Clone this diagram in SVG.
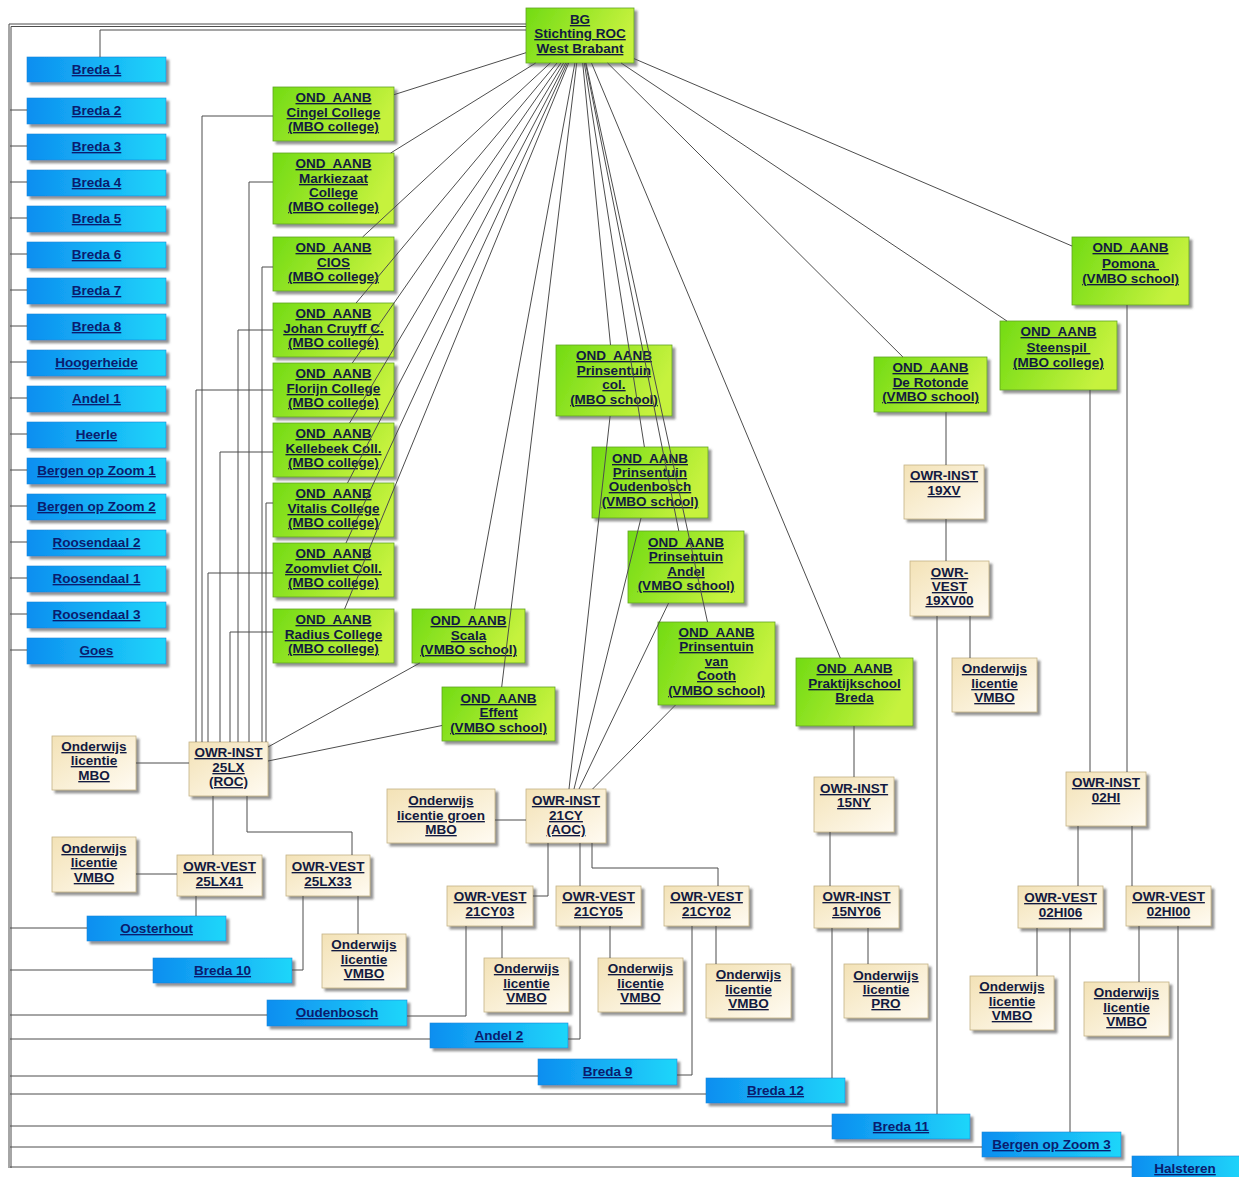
<svg xmlns="http://www.w3.org/2000/svg" width="1239" height="1177" viewBox="0 0 1239 1177">
<defs>
<linearGradient id="gg" x1="0" y1="0" x2="1" y2="0.3"><stop offset="0" stop-color="#72db14"/><stop offset="1" stop-color="#c6f23e"/></linearGradient>
<linearGradient id="bgr" x1="0" y1="0" x2="1" y2="0"><stop offset="0" stop-color="#0d8ef0"/><stop offset="1" stop-color="#1fd6fa"/></linearGradient>
<linearGradient id="yg" x1="0" y1="0" x2="1" y2="1"><stop offset="0" stop-color="#f3e2b6"/><stop offset="1" stop-color="#fffbf2"/></linearGradient>
<filter id="sh" x="-10%" y="-10%" width="130%" height="140%"><feDropShadow dx="3" dy="3" stdDeviation="1" flood-color="#707070" flood-opacity="0.75"/></filter>
</defs>
<style>
text{font-family:"Liberation Sans",Arial,sans-serif;font-weight:bold;font-size:13.5px;text-anchor:middle;text-decoration:underline;white-space:pre;fill:#121a40}
.g rect{fill:url(#gg);stroke:#62a322;stroke-width:0.8;filter:url(#sh)}
.b rect{fill:url(#bgr);stroke:#1a86d8;stroke-width:0.6;filter:url(#sh)}
.y rect{fill:url(#yg);stroke:#c4b285;stroke-width:0.8;filter:url(#sh)}
.b text{fill:#0a1c6e}
.c path{fill:none;stroke:#4d4d4d;stroke-width:1}
</style>
<rect width="1239" height="1177" fill="#ffffff"/>

<!-- blue location nodes -->
<g id="breda1" class="b"><rect x="27" y="57" width="139" height="25"/><text x="96.5" y="74">Breda 1</text></g>
<g id="breda2" class="b"><rect x="27" y="98" width="139" height="26"/><text x="96.5" y="115">Breda 2</text></g>
<g id="breda3" class="b"><rect x="27" y="134" width="139" height="26"/><text x="96.5" y="151">Breda 3</text></g>
<g id="breda4" class="b"><rect x="27" y="170" width="139" height="26"/><text x="96.5" y="187">Breda 4</text></g>
<g id="breda5" class="b"><rect x="27" y="206" width="139" height="26"/><text x="96.5" y="223">Breda 5</text></g>
<g id="breda6" class="b"><rect x="27" y="242" width="139" height="26"/><text x="96.5" y="259">Breda 6</text></g>
<g id="breda7" class="b"><rect x="27" y="278" width="139" height="26"/><text x="96.5" y="295">Breda 7</text></g>
<g id="breda8" class="b"><rect x="27" y="314" width="139" height="26"/><text x="96.5" y="331">Breda 8</text></g>
<g id="hoogerheide" class="b"><rect x="27" y="350" width="139" height="26"/><text x="96.5" y="367">Hoogerheide</text></g>
<g id="andel1" class="b"><rect x="27" y="386" width="139" height="26"/><text x="96.5" y="403">Andel 1</text></g>
<g id="heerle" class="b"><rect x="27" y="422" width="139" height="26"/><text x="96.5" y="439">Heerle</text></g>
<g id="boz1" class="b"><rect x="27" y="458" width="139" height="26"/><text x="96.5" y="475">Bergen op Zoom 1</text></g>
<g id="boz2" class="b"><rect x="27" y="494" width="139" height="26"/><text x="96.5" y="511">Bergen op Zoom 2</text></g>
<g id="roosendaal2" class="b"><rect x="27" y="530" width="139" height="26"/><text x="96.5" y="547">Roosendaal 2</text></g>
<g id="roosendaal1" class="b"><rect x="27" y="566" width="139" height="26"/><text x="96.5" y="583">Roosendaal 1</text></g>
<g id="roosendaal3" class="b"><rect x="27" y="602" width="139" height="26"/><text x="96.5" y="619">Roosendaal 3</text></g>
<g id="goes" class="b"><rect x="27" y="638" width="139" height="26"/><text x="96.5" y="655">Goes</text></g>
<g id="oosterhout" class="b"><rect x="87" y="916" width="139" height="25"/><text x="156.5" y="933">Oosterhout</text></g>
<g id="breda10" class="b"><rect x="153" y="958" width="139" height="25"/><text x="222.5" y="975">Breda 10</text></g>
<g id="oudenbosch" class="b"><rect x="267" y="1000" width="140" height="26"/><text x="337" y="1017">Oudenbosch</text></g>
<g id="andel2" class="b"><rect x="430" y="1023" width="138" height="25"/><text x="499" y="1040">Andel 2</text></g>
<g id="breda9" class="b"><rect x="538" y="1059" width="139" height="26"/><text x="607.5" y="1076">Breda 9</text></g>
<g id="breda12" class="b"><rect x="706" y="1078" width="139" height="25"/><text x="775.5" y="1095">Breda 12</text></g>
<g id="breda11" class="b"><rect x="832" y="1114" width="138" height="25"/><text x="901" y="1131">Breda 11</text></g>
<g id="boz3" class="b"><rect x="982" y="1132" width="139" height="25"/><text x="1051.5" y="1149">Bergen op Zoom 3</text></g>
<g id="halsteren" class="b"><rect x="1132" y="1156" width="112" height="26"/><text x="1185" y="1173">Halsteren</text></g>

<!-- green nodes -->
<g id="bg" class="g"><rect x="526" y="8" width="108" height="55"/><text x="580" y="24">BG</text><text x="580" y="38">Stichting ROC</text><text x="580" y="53">West Brabant</text></g>
<g id="cingel" class="g"><rect x="273" y="87" width="121" height="54"/><text x="333.5" y="102">OND  AANB</text><text x="333.5" y="117">Cingel College</text><text x="333.5" y="131">(MBO college)</text></g>
<g id="markiezaat" class="g"><rect x="273" y="153" width="121" height="71"/><text x="333.5" y="168">OND  AANB</text><text x="333.5" y="183">Markiezaat</text><text x="333.5" y="197">College</text><text x="333.5" y="211">(MBO college)</text></g>
<g id="cios" class="g"><rect x="273" y="237" width="121" height="54"/><text x="333.5" y="252">OND  AANB</text><text x="333.5" y="267">CIOS</text><text x="333.5" y="281">(MBO college)</text></g>
<g id="johan" class="g"><rect x="273" y="303" width="121" height="54"/><text x="333.5" y="318">OND  AANB</text><text x="333.5" y="333">Johan Cruyff C.</text><text x="333.5" y="347">(MBO college)</text></g>
<g id="florijn" class="g"><rect x="273" y="363" width="121" height="54"/><text x="333.5" y="378">OND  AANB</text><text x="333.5" y="393">Florijn College</text><text x="333.5" y="407">(MBO college)</text></g>
<g id="kellebeek" class="g"><rect x="273" y="423" width="121" height="54"/><text x="333.5" y="438">OND  AANB</text><text x="333.5" y="453">Kellebeek Coll.</text><text x="333.5" y="467">(MBO college)</text></g>
<g id="vitalis" class="g"><rect x="273" y="483" width="121" height="54"/><text x="333.5" y="498">OND  AANB</text><text x="333.5" y="513">Vitalis College</text><text x="333.5" y="527">(MBO college)</text></g>
<g id="zoomvliet" class="g"><rect x="273" y="543" width="121" height="54"/><text x="333.5" y="558">OND  AANB</text><text x="333.5" y="573">Zoomvliet Coll.</text><text x="333.5" y="587">(MBO college)</text></g>
<g id="radius" class="g"><rect x="273" y="609" width="121" height="54"/><text x="333.5" y="624">OND  AANB</text><text x="333.5" y="639">Radius College</text><text x="333.5" y="653">(MBO college)</text></g>
<g id="scala" class="g"><rect x="412" y="609" width="113" height="54"/><text x="468.5" y="625">OND  AANB</text><text x="468.5" y="640">Scala</text><text x="468.5" y="654">(VMBO school)</text></g>
<g id="effent" class="g"><rect x="442" y="687" width="113" height="54"/><text x="498.5" y="703">OND  AANB</text><text x="498.5" y="717">Effent</text><text x="498.5" y="732">(VMBO school)</text></g>
<g id="pcol" class="g"><rect x="556" y="345" width="116" height="71"/><text x="614" y="360">OND  AANB</text><text x="614" y="375">Prinsentuin</text><text x="614" y="389">col.</text><text x="614" y="404">(MBO school)</text></g>
<g id="poudenbosch" class="g"><rect x="592" y="447" width="116" height="71"/><text x="650" y="463">OND  AANB</text><text x="650" y="477">Prinsentuin</text><text x="650" y="491">Oudenbosch</text><text x="650" y="506">(VMBO school)</text></g>
<g id="pandel" class="g"><rect x="628" y="531" width="116" height="72"/><text x="686" y="547">OND  AANB</text><text x="686" y="561">Prinsentuin</text><text x="686" y="576">Andel</text><text x="686" y="590">(VMBO school)</text></g>
<g id="pcooth" class="g"><rect x="658" y="622" width="117" height="83"/><text x="716.5" y="637">OND  AANB</text><text x="716.5" y="651">Prinsentuin</text><text x="716.5" y="666">van</text><text x="716.5" y="680">Cooth</text><text x="716.5" y="695">(VMBO school)</text></g>
<g id="praktijk" class="g"><rect x="796" y="658" width="117" height="68"/><text x="854.5" y="673">OND  AANB</text><text x="854.5" y="688">Praktijkschool</text><text x="854.5" y="702">Breda</text></g>
<g id="rotonde" class="g"><rect x="874" y="357" width="113" height="55"/><text x="930.5" y="372">OND  AANB</text><text x="930.5" y="387">De Rotonde</text><text x="930.5" y="401">(VMBO school)</text></g>
<g id="steenspil" class="g"><rect x="1000" y="321" width="117" height="69"/><text x="1058.5" y="336">OND  AANB</text><text x="1058.5" y="352">Steenspil </text><text x="1058.5" y="367">(MBO college)</text></g>
<g id="pomona" class="g"><rect x="1072" y="237" width="117" height="68"/><text x="1130.5" y="252">OND  AANB</text><text x="1130.5" y="268">Pomona </text><text x="1130.5" y="283">(VMBO school)</text></g>

<!-- beige nodes -->
<g id="inst25lx" class="y"><rect x="189" y="742" width="79" height="54"/><text x="228.5" y="757">OWR-INST</text><text x="228.5" y="772">25LX</text><text x="228.5" y="786">(ROC)</text></g>
<g id="licmbo" class="y"><rect x="52" y="736" width="84" height="54"/><text x="94" y="751">Onderwijs</text><text x="94" y="765">licentie</text><text x="94" y="780">MBO</text></g>
<g id="vest25lx41" class="y"><rect x="177" y="855" width="85" height="41"/><text x="219.5" y="871">OWR-VEST</text><text x="219.5" y="886">25LX41</text></g>
<g id="licvmbo1" class="y"><rect x="52" y="837" width="84" height="55"/><text x="94" y="853">Onderwijs</text><text x="94" y="867">licentie</text><text x="94" y="882">VMBO</text></g>
<g id="vest25lx33" class="y"><rect x="286" y="855" width="84" height="41"/><text x="328" y="871">OWR-VEST</text><text x="328" y="886">25LX33</text></g>
<g id="licvmbo2" class="y"><rect x="322" y="934" width="84" height="54"/><text x="364" y="949">Onderwijs</text><text x="364" y="964">licentie</text><text x="364" y="978">VMBO</text></g>
<g id="licgroen" class="y"><rect x="387" y="789" width="108" height="54"/><text x="441" y="805">Onderwijs</text><text x="441" y="820">licentie groen</text><text x="441" y="834">MBO</text></g>
<g id="inst21cy" class="y"><rect x="526" y="789" width="80" height="54"/><text x="566" y="805">OWR-INST</text><text x="566" y="820">21CY</text><text x="566" y="834">(AOC)</text></g>
<g id="vest21cy03" class="y"><rect x="447" y="886" width="86" height="40"/><text x="490" y="901">OWR-VEST</text><text x="490" y="916">21CY03</text></g>
<g id="vest21cy05" class="y"><rect x="556" y="886" width="85" height="40"/><text x="598.5" y="901">OWR-VEST</text><text x="598.5" y="916">21CY05</text></g>
<g id="vest21cy02" class="y"><rect x="664" y="886" width="85" height="40"/><text x="706.5" y="901">OWR-VEST</text><text x="706.5" y="916">21CY02</text></g>
<g id="licvmbo3" class="y"><rect x="484" y="958" width="85" height="54"/><text x="526.5" y="973">Onderwijs</text><text x="526.5" y="988">licentie</text><text x="526.5" y="1002">VMBO</text></g>
<g id="licvmbo4" class="y"><rect x="598" y="958" width="85" height="54"/><text x="640.5" y="973">Onderwijs</text><text x="640.5" y="988">licentie</text><text x="640.5" y="1002">VMBO</text></g>
<g id="licvmbo5" class="y"><rect x="706" y="964" width="85" height="54"/><text x="748.5" y="979">Onderwijs</text><text x="748.5" y="994">licentie</text><text x="748.5" y="1008">VMBO</text></g>
<g id="inst15ny" class="y"><rect x="814" y="777" width="80" height="55"/><text x="854" y="793">OWR-INST</text><text x="854" y="807">15NY</text></g>
<g id="inst15ny06" class="y"><rect x="814" y="886" width="85" height="42"/><text x="856.5" y="901">OWR-INST</text><text x="856.5" y="916">15NY06</text></g>
<g id="licpro" class="y"><rect x="844" y="964" width="84" height="54"/><text x="886" y="980">Onderwijs</text><text x="886" y="994">licentie</text><text x="886" y="1008">PRO</text></g>
<g id="inst19xv" class="y"><rect x="904" y="465" width="80" height="54"/><text x="944" y="480">OWR-INST</text><text x="944" y="495">19XV</text></g>
<g id="vest19xv00" class="y"><rect x="910" y="561" width="79" height="55"/><text x="949.5" y="577">OWR-</text><text x="949.5" y="591">VEST</text><text x="949.5" y="605">19XV00</text></g>
<g id="licvmbo6" class="y"><rect x="952" y="658" width="85" height="54"/><text x="994.5" y="673">Onderwijs</text><text x="994.5" y="688">licentie</text><text x="994.5" y="702">VMBO</text></g>
<g id="inst02hi" class="y"><rect x="1066" y="772" width="80" height="54"/><text x="1106" y="787">OWR-INST</text><text x="1106" y="802">02HI</text></g>
<g id="vest02hi06" class="y"><rect x="1018" y="886" width="85" height="42"/><text x="1060.5" y="902">OWR-VEST</text><text x="1060.5" y="917">02HI06</text></g>
<g id="vest02hi00" class="y"><rect x="1126" y="886" width="85" height="40"/><text x="1168.5" y="901">OWR-VEST</text><text x="1168.5" y="916">02HI00</text></g>
<g id="licvmbo7" class="y"><rect x="970" y="976" width="84" height="54"/><text x="1012" y="991">Onderwijs</text><text x="1012" y="1006">licentie</text><text x="1012" y="1020">VMBO</text></g>
<g id="licvmbo8" class="y"><rect x="1084" y="982" width="85" height="54"/><text x="1126.5" y="997">Onderwijs</text><text x="1126.5" y="1012">licentie</text><text x="1126.5" y="1026">VMBO</text></g>

<!-- connectors -->
<g id="connectors" class="c">
<path d="M526,24 H9 V1168"/>
<path d="M526,26.5 H11 V1168"/>
<path d="M526,30 H100 V57"/>
<path d="M10,110 H27 M10,146 H27 M10,182 H27 M10,218 H27 M10,254 H27 M10,290 H27 M10,326 H27 M10,362 H27 M10,398 H27 M10,434 H27 M10,470 H27 M10,506 H27 M10,542 H27 M10,578 H27 M10,614 H27 M10,650 H27"/>
<path d="M10,928 H87 M10,970 H153 M10,1015 H267 M10,1039 H430 M10,1076 H538 M10,1094 H706 M10,1126 H832 M10,1147 H982 M10,1167 H1132"/>
<path d="M526,52.7 L394,94.7"/>
<path d="M535.7,63 L390.7,153"/>
<path d="M550.3,63 L362.6,237"/>
<path d="M557,63 L356.1,303"/>
<path d="M560.9,63 L352.3,363"/>
<path d="M563.6,63 L349.6,423"/>
<path d="M565.7,63 L347.5,483"/>
<path d="M567.3,63 L346,543"/>
<path d="M568.7,63 L344.6,609"/>
<path d="M574.9,63 L474.5,609"/>
<path d="M576.7,63 L501.7,687"/>
<path d="M582.7,63 L610.5,345"/>
<path d="M584.3,63 L644.4,447"/>
<path d="M585.5,63 L678.8,531"/>
<path d="M586,63 L707.5,622"/>
<path d="M591.5,63 L840.3,658"/>
<path d="M607.6,63 L902.9,357"/>
<path d="M621.1,63 L1006.9,321"/>
<path d="M634,58.6 L1072,246"/>
<path d="M273,116 H202 V742"/>
<path d="M273,182 H249 V742"/>
<path d="M273,267 H262 V742"/>
<path d="M273,330 H238 V742"/>
<path d="M273,390 H196 V742"/>
<path d="M273,452 H220 V742"/>
<path d="M273,503 H266 V742"/>
<path d="M273,573 H208 V742"/>
<path d="M273,632 H230 V742"/>
<path d="M419.8,663 L268,747"/>
<path d="M442,725.5 L268,761"/>
<path d="M136,763 H189"/>
<path d="M213,796 V855"/>
<path d="M247,796 V832 H352 V855"/>
<path d="M136,874 H177"/>
<path d="M196,896 V916"/>
<path d="M303,896 V970 H292"/>
<path d="M358,896 V934"/>
<path d="M610.1,416 L569,789"/>
<path d="M641,518 L574,789"/>
<path d="M668.6,603 L579,789"/>
<path d="M675.5,705 L592.6,789"/>
<path d="M495,820 H526"/>
<path d="M548,843 V896 H533"/>
<path d="M580,843 V886"/>
<path d="M592,843 V868 H718 V886"/>
<path d="M502,926 V958"/>
<path d="M466,926 V1016 H407"/>
<path d="M610,926 V958"/>
<path d="M580,926 V1039 H568"/>
<path d="M716,926 V964"/>
<path d="M692,926 V1075 H677"/>
<path d="M854,726 V777"/>
<path d="M830,832 V886"/>
<path d="M868,928 V964"/>
<path d="M832,928 V1078"/>
<path d="M946,412 V465"/>
<path d="M946,519 V561"/>
<path d="M970,616 V658"/>
<path d="M937,616 V1114"/>
<path d="M1090,390 V772"/>
<path d="M1127,305 V772"/>
<path d="M1078,826 V886"/>
<path d="M1132,826 V886"/>
<path d="M1037,928 V976"/>
<path d="M1070,928 V1132"/>
<path d="M1139,926 V982"/>
<path d="M1178,926 V1156"/>
</g>
</svg>
